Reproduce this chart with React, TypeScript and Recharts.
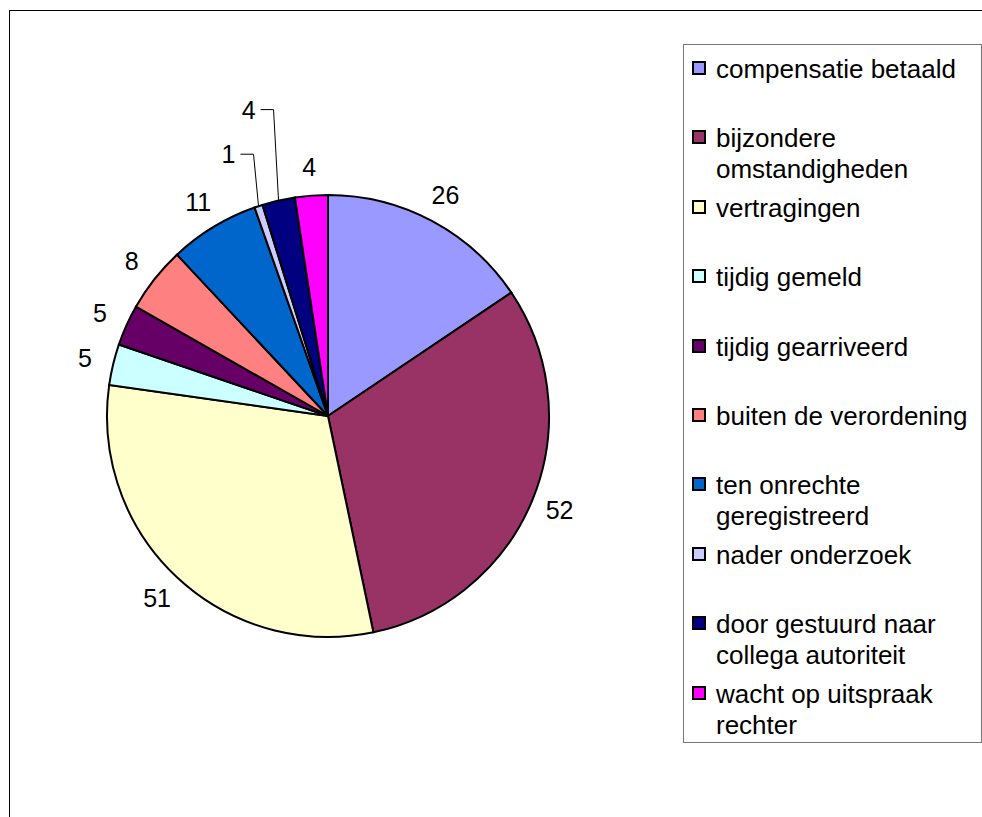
import { PieChart, Pie, Cell, Legend } from 'recharts';

const categories = [
  'compensatie betaald',
  'bijzondere omstandigheden',
  'vertragingen',
  'tijdig gemeld',
  'tijdig gearriveerd',
  'buiten de verordening',
  'ten onrechte geregistreerd',
  'nader onderzoek',
  'door gestuurd naar collega autoriteit',
  'wacht op uitspraak rechter',
];
const counts = [26, 52, 51, 5, 5, 8, 11, 1, 4, 4];
const colors = ['#9999FF', '#993366', '#FFFFCC', '#CCFFFF', '#660066', '#FF8080', '#0066CC', '#CCCCFF', '#000080', '#FF00FF'];

const data = categories.map((name, i) => ({ name, value: counts[i] }));

// the two tiny slices get their label pulled up with a leader line (rise in px above the rim)
const leaderRise: Record<number, number> = { 7: 52, 8: 91 };

const RAD = Math.PI / 180;
const FONT = '"Liberation Sans", Arial, sans-serif';

const renderLabel = (props: any) => {
  const { cx, cy, midAngle, outerRadius, value, index } = props;
  const cos = Math.cos(-midAngle * RAD);
  const sin = Math.sin(-midAngle * RAD);
  const rise = leaderRise[index];
  if (rise) {
    const ex = cx + outerRadius * cos;
    const ey = cy + outerRadius * sin;
    const tx = ex - 5;
    const ty = ey - rise;
    return (
      <g>
        <polyline points={`${ex},${ey} ${tx},${ty} ${tx - 13},${ty}`} fill="none" stroke="#000" strokeWidth={1} />
        <text x={tx - 18} y={ty} textAnchor="end" dominantBaseline="central" fontSize={25} fontFamily={FONT} fill="#000">
          {value}
        </text>
      </g>
    );
  }
  const r = outerRadius + 29;
  return (
    <text x={cx + r * cos} y={cy + r * sin} textAnchor="middle" dominantBaseline="central" fontSize={25} fontFamily={FONT} fill="#000">
      {value}
    </text>
  );
};

const LegendBox = () => (
  <div
    style={{
      boxSizing: 'border-box', width: 299, height: 699, border: '1px solid #777', background: '#fff',
      padding: '9px 0 0 8px', fontFamily: FONT, fontSize: 26, color: '#000',
    }}
  >
    {data.map((d, i) => (
      <div key={d.name} style={{ height: 69.4, display: 'flex', alignItems: 'flex-start' }}>
        <span
          style={{
            width: 14, height: 14, boxSizing: 'border-box', border: '2px solid #000',
            background: colors[i], marginTop: 7, flex: 'none',
          }}
        />
        <span style={{ marginLeft: 10, lineHeight: '31px', width: 262 }}>{d.name}</span>
      </div>
    ))}
  </div>
);

export default function App() {
  return (
    <div style={{ position: 'absolute', left: 0, top: 0, width: 982, height: 817, overflow: 'hidden', background: '#fff' }}>
      {/* chart area frame, runs off the right and bottom edge */}
      <div style={{ position: 'absolute', left: 9, top: 10, width: 1200, height: 1200, borderTop: '1px solid #000', borderLeft: '1px solid #000' }} />
      <div style={{ position: 'absolute', left: 0, top: 0 }}>
        <PieChart width={982} height={817} margin={{ top: 0, right: 0, bottom: 0, left: 0 }}>
          <Pie
            data={data}
            dataKey="value"
            nameKey="name"
            cx={328}
            cy={416}
            outerRadius={221}
            startAngle={90}
            endAngle={-270}
            stroke="#000"
            strokeWidth={2}
            label={renderLabel}
            labelLine={false}
            isAnimationActive={false}
          >
            {data.map((d, i) => (
              <Cell key={d.name} fill={colors[i]} />
            ))}
          </Pie>
          <Legend content={() => <LegendBox />} wrapperStyle={{ left: 683, top: 44, width: 299, height: 699 }} />
        </PieChart>
      </div>
    </div>
  );
}
